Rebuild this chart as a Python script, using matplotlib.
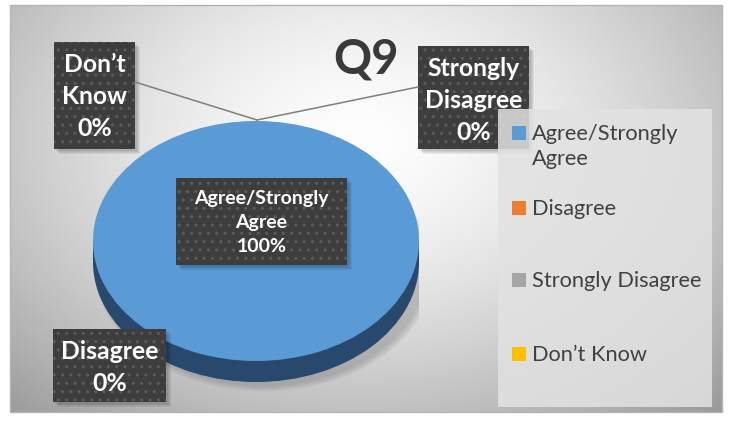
import textwrap
import numpy as np
import matplotlib
matplotlib.use("Agg")
import matplotlib.pyplot as plt
from matplotlib.patches import Rectangle, Ellipse

# Q9 responses (share of respondents, %)
labels = ["Agree/Strongly Agree", "Disagree", "Strongly Disagree", "Don’t Know"]
values = [100, 0, 0, 0]
colors = ["#5B9BD5", "#ED7D31", "#A5A5A5", "#FFC000"]
side_colors = ["#28486E", "#8A4519", "#5E5E5E", "#8F6C00"]
title = "Q9"

W, H = 735, 427
plt.rcParams["font.family"] = ["Lato", "DejaVu Sans"]

fig = plt.figure(figsize=(W / 100, H / 100), dpi=100)

# background gradient + border (pixel coordinates)
bg = fig.add_axes([0, 0, 1, 1], zorder=0)
bg.set_xlim(0, W)
bg.set_ylim(H, 0)
bg.axis("off")
x0, y0, x1, y1 = 10, 6, 722, 413
xx, yy = np.meshgrid(np.linspace(x0, x1, 300), np.linspace(y0, y1, 200))
r = np.sqrt(((xx - 360) / 420) ** 2 + ((yy - 140) / 300) ** 2)
shade = np.clip(0.995 - 0.28 * r ** 1.5, 0, 1)
bg.imshow(shade, cmap="gray", vmin=0, vmax=1, extent=(x0, x1, y1, y0),
          aspect="auto", interpolation="bilinear")
bg.add_patch(Rectangle((x0, y0), x1 - x0, y1 - y0, fill=False,
                       edgecolor="#b4b4b4", linewidth=1))

# pie axes: ellipse top surface spans x 93..419 px, y 122..362 px
rx_px, ry_px = 163, 120
cx_px, cy_px = 256, 242
ylo, yhi = -1.35, 1.05
left_px = cx_px - rx_px
top_px = cy_px - yhi * ry_px
h_px = (yhi - ylo) * ry_px
pie_ax = fig.add_axes([left_px / W, 1 - (top_px + h_px) / H,
                       2 * rx_px / W, h_px / H], zorder=1)
depth = 21 / ry_px

# soft shadow
for i in range(8):
    pie_ax.add_patch(Ellipse((0.05, -depth - 0.06), 2.08 - i * 0.014,
                             2.04 - i * 0.014, color="#707070",
                             alpha=0.05, linewidth=0))

# side of the 3D pie
pie_ax.pie(values, colors=side_colors, startangle=90, counterclock=False,
           center=(0, -depth), radius=1, wedgeprops=dict(linewidth=0))
pie_ax.add_patch(Rectangle((-1, -depth), 2, depth, color=side_colors[0],
                           linewidth=0))
# top surface
pie_ax.pie(values, colors=colors, startangle=90, counterclock=False,
           center=(0, 0), radius=1, wedgeprops=dict(linewidth=0))
pie_ax.set_aspect("auto")
pie_ax.set_xlim(-1, 1)
pie_ax.set_ylim(ylo, yhi)
pie_ax.axis("off")

# overlay for labels, leader lines, legend
ov = fig.add_axes([0, 0, 1, 1], zorder=2)
ov.set_xlim(0, W)
ov.set_ylim(H, 0)
ov.axis("off")
ov.patch.set_alpha(0)

ov.text(366, 60, title, ha="center", va="center", fontsize=34,
        fontweight="bold", color="#3a3a3a")

# leader lines to the top of the pie
top_pt = (257, 121)
ov.plot([135, top_pt[0]], [83, top_pt[1]], color="#7f7f7f", lw=1.1)
ov.plot([418, top_pt[0]], [88, top_pt[1]], color="#7f7f7f", lw=1.1)

# data label boxes: (x, y, w, h, fontsize, text y-shift)
boxes = [
    (176, 179, 171, 87, 14, 0),
    (53, 330, 113, 73, 17.8, 1),
    (418, 47, 111, 103, 17.8, 2),
    (54, 43, 81, 107, 17.8, 0),
]
total = sum(values)
for lab, val, (bx, by, bw, bh, fs, dy) in zip(labels, values, boxes):
    for k in range(4):
        ov.add_patch(Rectangle((bx + 2 + k, by + 2 + k), bw, bh,
                               color="black", alpha=0.06, linewidth=0))
    ov.add_patch(Rectangle((bx, by), bw, bh, facecolor="#3d3d3d",
                           edgecolor="none"))
    ov.add_patch(Rectangle((bx, by), bw, bh, facecolor="none",
                           edgecolor="#5c5c5c", hatch="..", linewidth=0))
    txt = lab.replace(" ", "\n") + f"\n{val / total * 100:.0f}%"
    ov.text(bx + bw / 2, by + bh / 2 + dy, txt, ha="center", va="center",
            fontsize=fs, fontweight="bold", color="white", linespacing=1.48)

# legend
ov.add_patch(Rectangle((498, 110), 214, 298, facecolor="#e2e2e2",
                       edgecolor="none", alpha=0.85))
legend_y = [134, 209, 281, 355]
for lab, col, ly in zip(labels, colors, legend_y):
    ov.add_patch(Rectangle((512, ly - 7), 14, 14, color=col, linewidth=0))
    ov.text(532, ly - 10, textwrap.fill(lab, 17), ha="left", va="top",
            fontsize=15.7, color="#404040", linespacing=1.32)

fig.savefig("out.png", dpi=100)
